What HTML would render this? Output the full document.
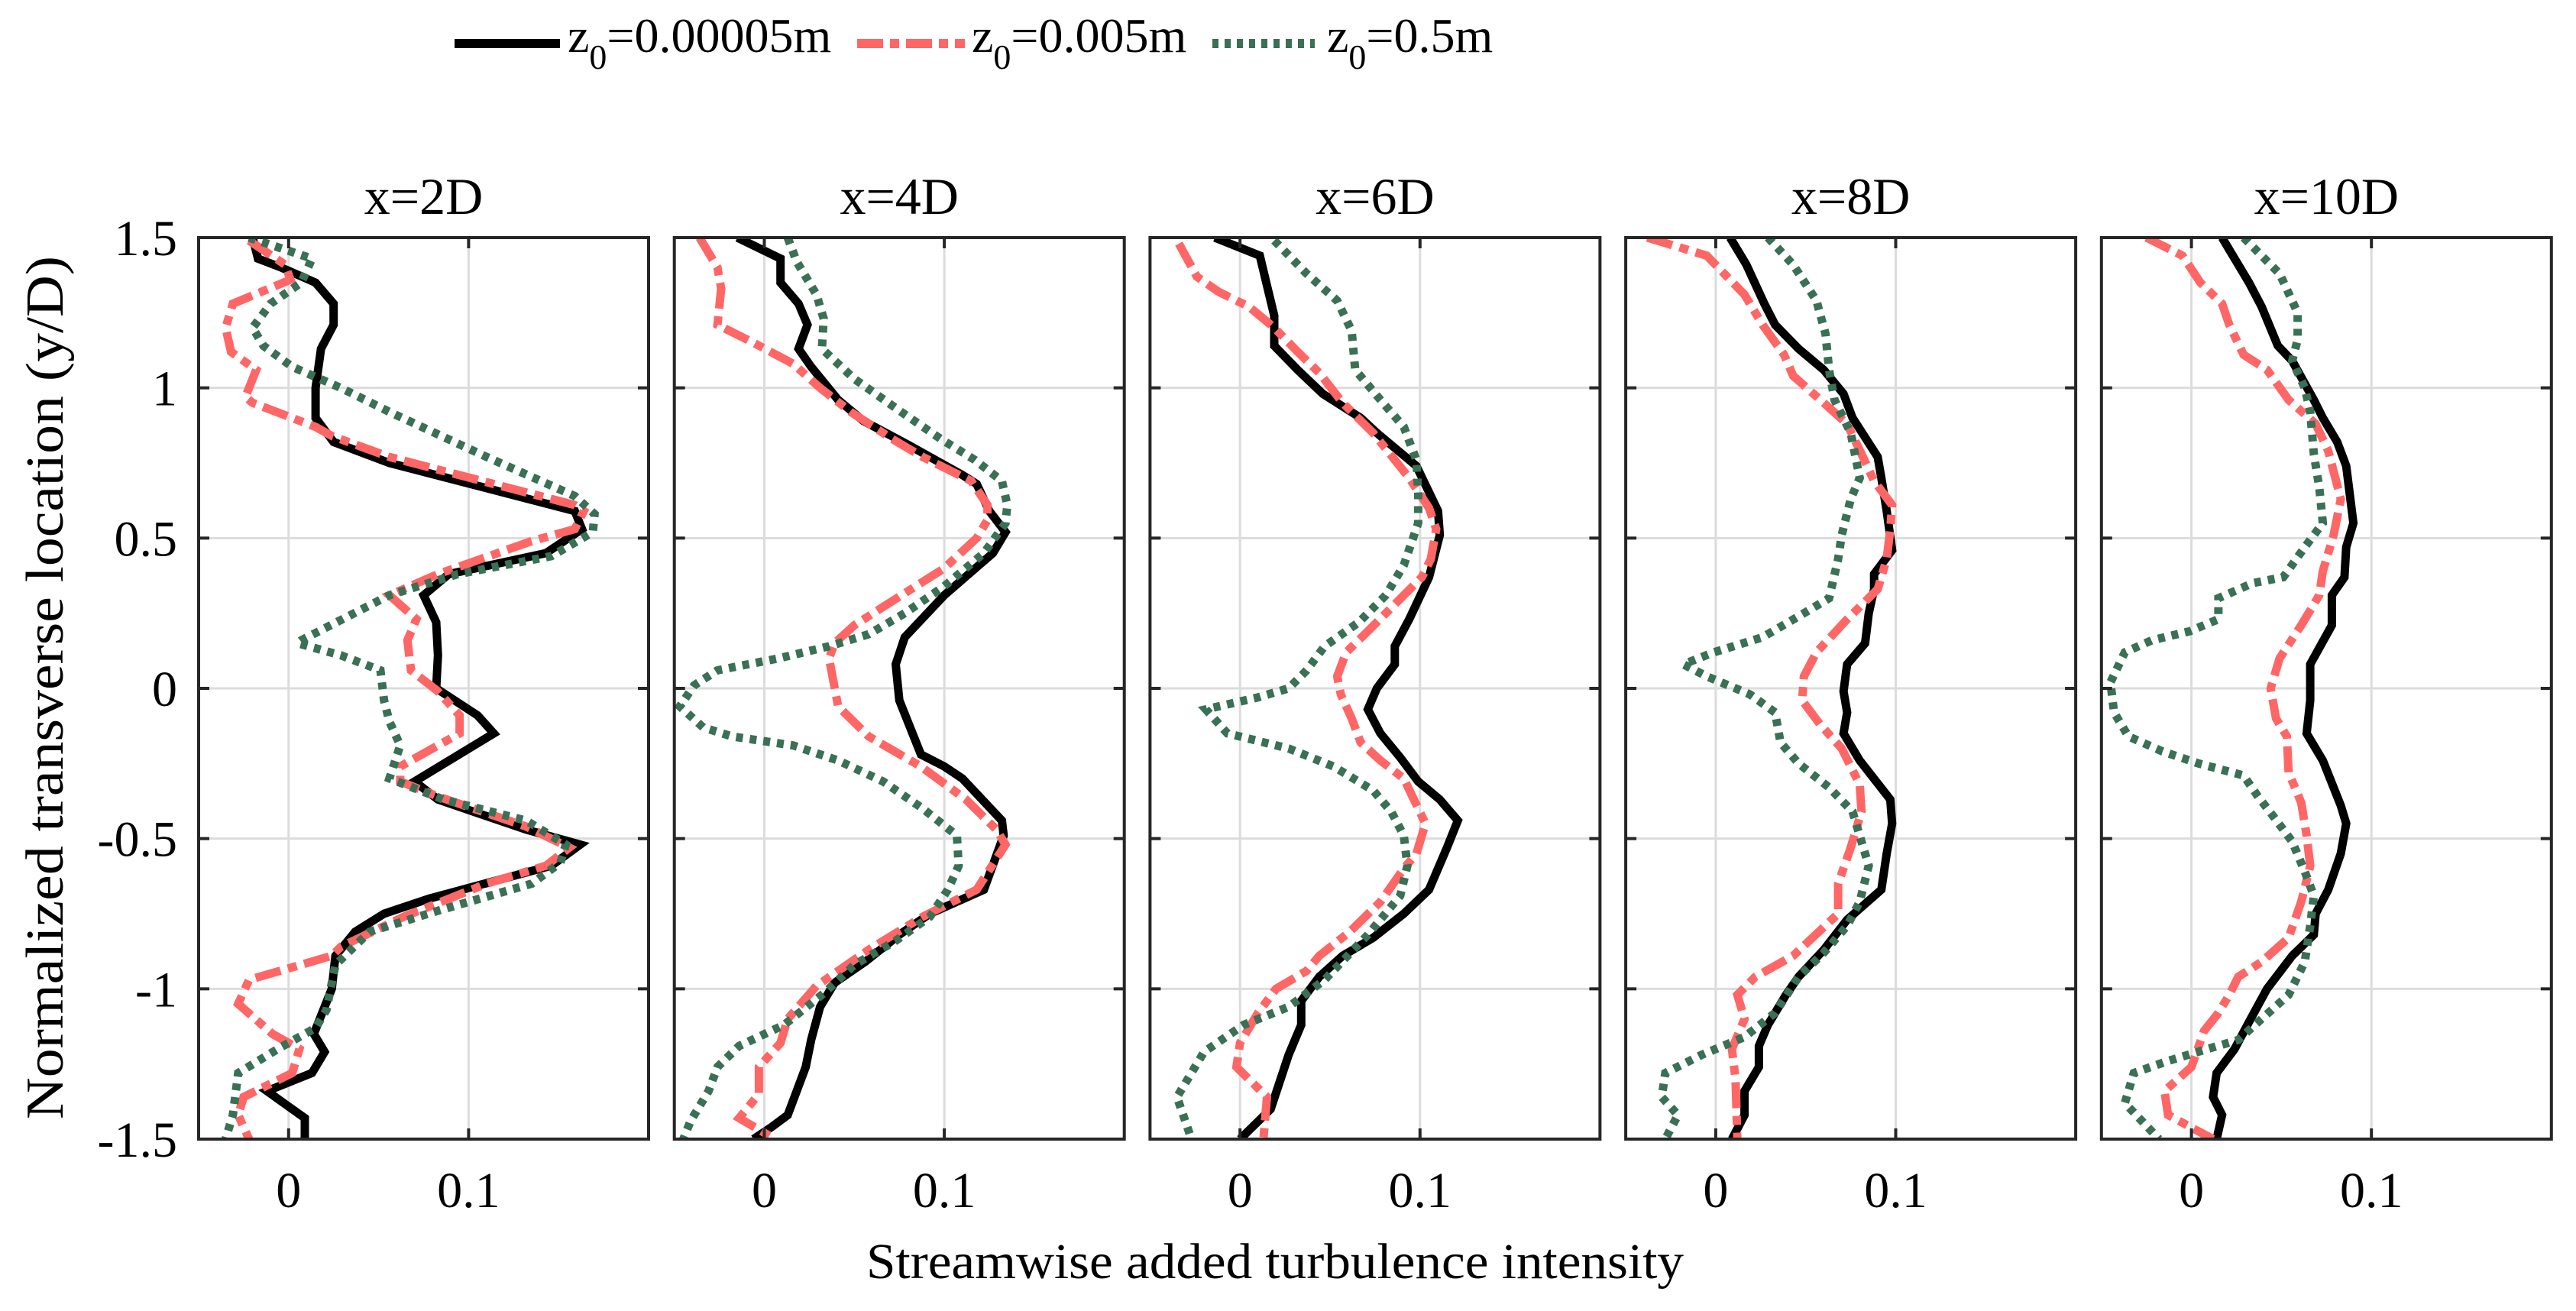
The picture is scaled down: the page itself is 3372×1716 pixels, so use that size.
<!DOCTYPE html>
<html><head><meta charset="utf-8"><style>
html,body{margin:0;padding:0;background:#fff;}
svg{display:block;}
text{font-family:"Liberation Serif",serif;fill:#000;}
</style></head><body>
<svg id="chart" width="3372" height="1716" viewBox="0 0 3372 1716" xmlns="http://www.w3.org/2000/svg">
<g id="legend">
  <g>
    <line x1="595" y1="57" x2="733" y2="57" stroke="#000" stroke-width="12"/>
    <text x="743" y="68" font-size="64">z<tspan font-size="46" dy="22">0</tspan><tspan dy="-22">=0.00005m</tspan></text>
  </g>
  <g>
    <line x1="1122" y1="57" x2="1263" y2="57" stroke="#ff6666" stroke-width="12" stroke-dasharray="34 9 12 9"/>
    <text x="1272" y="68" font-size="64">z<tspan font-size="46" dy="22">0</tspan><tspan dy="-22">=0.005m</tspan></text>
  </g>
  <g>
    <line x1="1587" y1="57" x2="1721" y2="57" stroke="#3a7055" stroke-width="12" stroke-dasharray="8 8"/>
    <text x="1737" y="68" font-size="64">z<tspan font-size="46" dy="22">0</tspan><tspan dy="-22">=0.5m</tspan></text>
  </g>
</g>
<text transform="translate(82,900) rotate(-90)" text-anchor="middle" font-size="70" textLength="1130" lengthAdjust="spacingAndGlyphs">Normalized transverse location (y/D)</text>
<text x="1669" y="1673" text-anchor="middle" font-size="66" textLength="1070" lengthAdjust="spacingAndGlyphs">Streamwise added turbulence intensity</text>
<g id="panels"></g>
</svg>
<script>
const panelTitles = ["x=2D","x=4D","x=6D","x=8D","x=10D"];
const xTicks = [0, 0.1];
const xTickLabels = ["0","0.1"];
const yTicks = [1.5, 1, 0.5, 0, -0.5, -1, -1.5];
const yTickLabels = ["1.5","1","0.5","0","-0.5","-1","-1.5"];
const seriesNames = ["z0=0.00005m","z0=0.005m","z0=0.5m"];

// panel 1 (x=2D)
const p1BlackX=[-0.020,-0.017,-0.004,0.015,0.025,0.025,0.018,0.015,0.015,0.025,0.056,0.159,0.163,0.143,0.089,0.075,0.082,0.083,0.082,0.105,0.114,0.070,0.083,0.132,0.162,0.146,0.078,0.053,0.037,0.026,0.024,0.014,0.020,0.013,-0.012,0.009,0.009];
const p1BlackY=[1.50,1.43,1.40,1.35,1.28,1.21,1.13,1.00,0.90,0.82,0.75,0.59,0.53,0.45,0.38,0.31,0.22,0.11,0.00,-0.09,-0.15,-0.31,-0.37,-0.47,-0.52,-0.59,-0.70,-0.75,-0.81,-0.89,-1.00,-1.15,-1.21,-1.28,-1.34,-1.43,-1.50];
const p1RedX=[-0.022,-0.002,0.001,-0.031,-0.035,-0.032,-0.018,-0.024,-0.020,0.015,0.024,0.056,0.159,0.164,0.159,0.135,0.083,0.056,0.071,0.066,0.068,0.083,0.095,0.095,0.062,0.062,0.083,0.132,0.156,0.143,0.110,0.064,0.029,0.024,-0.022,-0.028,-0.009,0.006,0.002,-0.025,-0.028,-0.022];
const p1RedY=[1.49,1.41,1.36,1.28,1.20,1.12,1.06,0.97,0.95,0.87,0.84,0.77,0.61,0.59,0.53,0.49,0.38,0.31,0.23,0.16,0.06,-0.01,-0.09,-0.15,-0.26,-0.31,-0.36,-0.46,-0.53,-0.59,-0.65,-0.76,-0.86,-0.89,-0.97,-1.05,-1.15,-1.20,-1.28,-1.36,-1.42,-1.50];
const p1GreenX=[-0.022,0.013,0.007,-0.010,-0.020,-0.014,0.002,0.029,0.056,0.110,0.159,0.170,0.169,0.146,0.094,0.056,0.007,0.005,0.029,0.051,0.053,0.056,0.062,0.056,0.086,0.132,0.154,0.151,0.135,0.083,0.045,0.026,0.021,0.015,-0.006,-0.028,-0.031,-0.035];
const p1GreenY=[1.50,1.43,1.35,1.28,1.20,1.14,1.07,1.00,0.92,0.77,0.64,0.58,0.52,0.44,0.38,0.31,0.16,0.15,0.11,0.06,-0.04,-0.11,-0.19,-0.30,-0.37,-0.44,-0.52,-0.58,-0.65,-0.74,-0.81,-0.92,-1.07,-1.13,-1.20,-1.28,-1.42,-1.50];
// panel 2 (x=4D)
const p2BlackX=[-0.015,0.009,0.009,0.019,0.024,0.019,0.026,0.041,0.055,0.080,0.110,0.118,0.125,0.134,0.127,0.100,0.078,0.073,0.075,0.087,0.100,0.110,0.132,0.133,0.122,0.092,0.075,0.056,0.039,0.031,0.026,0.023,0.013,0.004,-0.006];
const p2BlackY=[1.50,1.43,1.35,1.28,1.21,1.13,1.07,0.96,0.89,0.81,0.71,0.68,0.59,0.52,0.45,0.31,0.17,0.08,-0.04,-0.22,-0.26,-0.30,-0.44,-0.49,-0.67,-0.75,-0.82,-0.91,-0.98,-1.06,-1.17,-1.26,-1.42,-1.46,-1.50];
const p2RedX=[-0.036,-0.026,-0.024,-0.026,-0.006,0.016,0.031,0.048,0.071,0.088,0.115,0.124,0.124,0.118,0.100,0.071,0.050,0.039,0.036,0.041,0.058,0.087,0.112,0.129,0.134,0.118,0.088,0.058,0.029,0.013,0.009,-0.003,-0.003,-0.014,0.006];
const p2RedY=[1.50,1.40,1.33,1.21,1.15,1.08,1.00,0.92,0.83,0.77,0.69,0.61,0.56,0.50,0.40,0.29,0.21,0.15,0.10,-0.06,-0.16,-0.26,-0.37,-0.47,-0.52,-0.67,-0.76,-0.87,-0.99,-1.10,-1.18,-1.26,-1.35,-1.43,-1.50];
const p2GreenX=[0.013,0.018,0.029,0.033,0.032,0.050,0.076,0.098,0.117,0.132,0.135,0.134,0.122,0.100,0.078,0.058,0.036,0.008,-0.026,-0.039,-0.047,-0.034,-0.018,0.016,0.041,0.066,0.088,0.107,0.108,0.102,0.092,0.073,0.050,0.034,0.011,-0.014,-0.026,-0.031,-0.041,-0.045];
const p2GreenY=[1.50,1.42,1.31,1.23,1.13,1.03,0.92,0.83,0.76,0.69,0.61,0.55,0.45,0.34,0.25,0.18,0.14,0.10,0.06,0.01,-0.06,-0.13,-0.16,-0.19,-0.24,-0.31,-0.40,-0.49,-0.59,-0.67,-0.76,-0.84,-0.92,-1.01,-1.12,-1.19,-1.26,-1.34,-1.44,-1.50];
// panel 3 (x=6D)
const p3BlackX=[-0.014,0.011,0.015,0.019,0.019,0.032,0.046,0.067,0.076,0.098,0.110,0.111,0.105,0.094,0.086,0.086,0.076,0.071,0.078,0.089,0.099,0.111,0.121,0.115,0.105,0.091,0.074,0.057,0.044,0.034,0.034,0.027,0.017,0.000];
const p3BlackY=[1.50,1.44,1.34,1.24,1.14,1.06,0.98,0.90,0.85,0.74,0.59,0.51,0.37,0.23,0.14,0.08,0.00,-0.07,-0.15,-0.23,-0.31,-0.37,-0.44,-0.53,-0.67,-0.75,-0.83,-0.89,-0.96,-1.04,-1.12,-1.22,-1.40,-1.50];
const p3RedX=[-0.034,-0.024,-0.012,0.005,0.019,0.032,0.044,0.057,0.074,0.094,0.105,0.109,0.106,0.101,0.086,0.071,0.059,0.054,0.056,0.062,0.067,0.078,0.091,0.099,0.103,0.098,0.091,0.078,0.061,0.044,0.037,0.020,0.010,0.000,-0.002,0.015,0.013];
const p3RedY=[1.48,1.37,1.32,1.27,1.20,1.12,1.05,0.95,0.85,0.70,0.60,0.53,0.43,0.37,0.28,0.19,0.12,0.04,-0.02,-0.10,-0.18,-0.24,-0.30,-0.40,-0.45,-0.55,-0.60,-0.71,-0.81,-0.89,-0.94,-1.00,-1.08,-1.18,-1.26,-1.36,-1.50];
const p3GreenX=[0.019,0.037,0.054,0.062,0.064,0.078,0.091,0.098,0.099,0.099,0.091,0.081,0.066,0.047,0.037,0.027,0.010,-0.019,-0.007,0.027,0.052,0.074,0.084,0.091,0.093,0.089,0.071,0.047,0.027,0.002,-0.020,-0.035,-0.027];
const p3GreenY=[1.49,1.38,1.29,1.19,1.06,0.96,0.87,0.76,0.65,0.55,0.41,0.31,0.22,0.14,0.06,0.00,-0.03,-0.07,-0.15,-0.20,-0.26,-0.34,-0.41,-0.49,-0.59,-0.69,-0.82,-0.97,-1.06,-1.12,-1.21,-1.36,-1.50];
// panel 4 (x=8D)
const p4BlackX=[0.008,0.017,0.027,0.033,0.046,0.060,0.071,0.076,0.090,0.092,0.095,0.098,0.088,0.088,0.085,0.083,0.073,0.071,0.073,0.071,0.080,0.097,0.098,0.095,0.092,0.073,0.060,0.046,0.039,0.029,0.024,0.024,0.016,0.016,0.009];
const p4BlackY=[1.50,1.41,1.28,1.21,1.13,1.06,0.98,0.90,0.77,0.70,0.59,0.46,0.38,0.33,0.25,0.15,0.08,-0.01,-0.08,-0.15,-0.24,-0.37,-0.45,-0.55,-0.67,-0.77,-0.87,-0.96,-1.02,-1.12,-1.19,-1.26,-1.34,-1.42,-1.50];
const p4RedX=[-0.038,-0.005,0.016,0.026,0.038,0.043,0.060,0.073,0.081,0.088,0.098,0.097,0.095,0.090,0.073,0.056,0.049,0.048,0.058,0.070,0.080,0.081,0.075,0.068,0.068,0.043,0.022,0.012,0.016,0.009,0.011,0.012];
const p4RedY=[1.50,1.44,1.31,1.21,1.11,1.04,0.95,0.88,0.78,0.69,0.61,0.53,0.43,0.33,0.23,0.12,0.04,-0.04,-0.12,-0.20,-0.32,-0.41,-0.53,-0.65,-0.75,-0.89,-0.96,-1.02,-1.10,-1.20,-1.30,-1.50];
const p4GreenX=[0.029,0.043,0.056,0.061,0.063,0.066,0.075,0.080,0.075,0.070,0.068,0.063,0.049,0.026,-0.001,-0.018,-0.005,0.019,0.033,0.036,0.046,0.063,0.076,0.081,0.085,0.080,0.073,0.060,0.046,0.033,0.016,-0.008,-0.028,-0.030,-0.021,-0.028];
const p4GreenY=[1.50,1.41,1.29,1.18,1.06,0.96,0.85,0.70,0.63,0.51,0.43,0.30,0.25,0.17,0.12,0.08,0.04,-0.02,-0.08,-0.18,-0.25,-0.33,-0.41,-0.51,-0.59,-0.71,-0.79,-0.88,-0.96,-1.08,-1.16,-1.22,-1.28,-1.36,-1.42,-1.50];
// panel 5 (x=10D)
const p5BlackX=[0.017,0.032,0.039,0.048,0.056,0.068,0.073,0.081,0.086,0.090,0.086,0.085,0.078,0.078,0.066,0.066,0.064,0.073,0.083,0.086,0.083,0.076,0.069,0.068,0.056,0.042,0.032,0.024,0.014,0.012,0.017,0.014];
const p5BlackY=[1.50,1.35,1.27,1.14,1.09,0.96,0.90,0.82,0.74,0.55,0.47,0.37,0.31,0.21,0.08,-0.04,-0.15,-0.24,-0.39,-0.45,-0.55,-0.67,-0.75,-0.82,-0.89,-1.00,-1.11,-1.20,-1.28,-1.36,-1.42,-1.50];
const p5RedX=[-0.025,-0.005,0.005,0.017,0.021,0.029,0.042,0.054,0.069,0.076,0.083,0.079,0.073,0.071,0.061,0.049,0.044,0.047,0.053,0.054,0.061,0.064,0.066,0.061,0.054,0.039,0.026,0.021,0.015,0.007,0.000,-0.015,-0.013,0.012];
const p5RedY=[1.50,1.44,1.35,1.28,1.21,1.11,1.06,0.96,0.88,0.79,0.63,0.51,0.39,0.31,0.21,0.10,0.00,-0.10,-0.16,-0.28,-0.38,-0.49,-0.59,-0.71,-0.83,-0.91,-0.96,-1.02,-1.08,-1.14,-1.26,-1.34,-1.42,-1.50];
const p5GreenX=[0.029,0.049,0.059,0.059,0.056,0.063,0.066,0.068,0.071,0.073,0.063,0.051,0.034,0.015,0.015,-0.001,-0.022,-0.037,-0.045,-0.043,-0.035,-0.016,0.004,0.029,0.037,0.046,0.056,0.063,0.068,0.066,0.063,0.054,0.039,0.026,0.009,-0.013,-0.032,-0.037,-0.018];
const p5GreenY=[1.50,1.38,1.25,1.16,1.09,1.00,0.92,0.78,0.67,0.55,0.47,0.37,0.35,0.30,0.23,0.19,0.16,0.12,0.02,-0.08,-0.16,-0.21,-0.25,-0.29,-0.36,-0.43,-0.51,-0.61,-0.69,-0.79,-0.91,-1.02,-1.10,-1.17,-1.20,-1.24,-1.28,-1.38,-1.50];

const panelData = [
  [[p1BlackX,p1BlackY],[p1RedX,p1RedY],[p1GreenX,p1GreenY]],
  [[p2BlackX,p2BlackY],[p2RedX,p2RedY],[p2GreenX,p2GreenY]],
  [[p3BlackX,p3BlackY],[p3RedX,p3RedY],[p3GreenX,p3GreenY]],
  [[p4BlackX,p4BlackY],[p4RedX,p4RedY],[p4GreenX,p4GreenY]],
  [[p5BlackX,p5BlackY],[p5RedX,p5RedY],[p5GreenX,p5GreenY]]
];

const NS = "http://www.w3.org/2000/svg";
const XMIN=-0.05, XMAX=0.2, YMIN=-1.5, YMAX=1.5;
const PW=589, TOP=311, BOTTOM=1491, FIRST=260, STEP=622.7;
const styles=[
  {c:"#000000",d:null,w:11},
  {c:"#ff6666",d:"34 10 12 10",w:11},
  {c:"#3a7055",d:"9 9",w:11}
];
function mk(tag, attrs, parent){const e=document.createElementNS(NS,tag);for(const k in attrs)e.setAttribute(k,attrs[k]);parent.appendChild(e);return e;}
const root=document.getElementById('panels');
panelTitles.forEach((title,i)=>{
  const L=FIRST+i*STEP, R=L+PW;
  const sx=v=>L+(v-XMIN)/(XMAX-XMIN)*PW;
  const sy=v=>BOTTOM-(v-YMIN)/(YMAX-YMIN)*(BOTTOM-TOP);
  const g=mk('g',{},root);
  
  
  const cp=mk('clipPath',{id:'clip'+i},g);
  mk('rect',{x:L,y:TOP,width:PW,height:BOTTOM-TOP},cp);
  xTicks.forEach(t=>{const l=mk('line',{x1:sx(t),x2:sx(t),y1:TOP,y2:BOTTOM,stroke:"#dcdcdc","stroke-width":3},g);
    
    });
  yTicks.forEach(t=>{const l=mk('line',{x1:L,x2:R,y1:sy(t),y2:sy(t),stroke:"#dcdcdc","stroke-width":3},g);
    
    });
  const sg=mk('g',{'clip-path':'url(#clip'+i+')'},g);
  panelData[i].forEach((s,k)=>{
    const pts=s[0].map((x,j)=>sx(x).toFixed(1)+','+sy(s[1][j]).toFixed(1)).join(' ');
    const a={points:pts,fill:"none",stroke:styles[k].c,"stroke-width":styles[k].w,"stroke-linejoin":"miter","stroke-miterlimit":3};
    if(styles[k].d)a["stroke-dasharray"]=styles[k].d;
    const p=mk('polyline',a,sg);
    
    
  });
  const box=mk('rect',{x:L,y:TOP,width:PW,height:BOTTOM-TOP,fill:"none",stroke:"#262626","stroke-width":4},g);
  
  
  xTicks.forEach((t,j)=>{
    mk('line',{x1:sx(t),x2:sx(t),y1:TOP,y2:TOP+14,stroke:"#262626","stroke-width":4},g);
    mk('line',{x1:sx(t),x2:sx(t),y1:BOTTOM,y2:BOTTOM-14,stroke:"#262626","stroke-width":4},g);
    const tx=mk('text',{x:sx(t),y:1580,"text-anchor":"middle","font-size":66,fill:"#262626"},g);
    tx.textContent=xTickLabels[j];
    
    
  });
  yTicks.forEach((t,j)=>{
    mk('line',{x1:L,x2:L+14,y1:sy(t),y2:sy(t),stroke:"#262626","stroke-width":4},g);
    mk('line',{x1:R,x2:R-14,y1:sy(t),y2:sy(t),stroke:"#262626","stroke-width":4},g);
    if(i===0){
      const tx=mk('text',{x:232,y:sy(t)+23,"text-anchor":"end","font-size":66,fill:"#262626"},g);
      tx.textContent=yTickLabels[j];
      
      
    }
  });
  const tt=mk('text',{x:(L+R)/2,y:280,"text-anchor":"middle","font-size":68},g);
  tt.textContent=title;
  
  
});
</script>
</body></html>
